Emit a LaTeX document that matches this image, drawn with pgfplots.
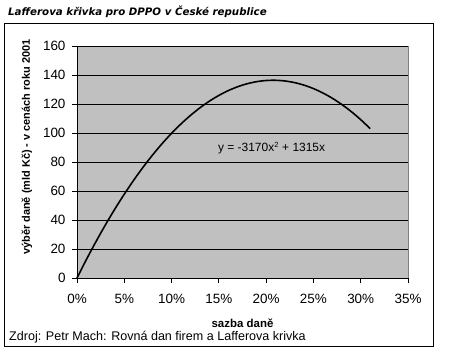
\documentclass[border=0pt]{standalone}
\usepackage{pgfplots}
\pgfplotsset{compat=1.18}
\usepackage{fontspec}
\setmainfont{Liberation Sans}
\newfontfamily\titlefont{DejaVu Sans}
\definecolor{excelgray}{RGB}{192,192,192}
\begin{document}
\begin{tikzpicture}[x=1bp,y=1bp]
\path (0,0) rectangle (452,356);
\draw[black, line width=0.8bp] (4.5,9.5) rectangle (433,333);
\node[anchor=west, inner sep=0pt, font=\titlefont\bfseries\itshape\fontsize{10.3}{12}\selectfont] at (8,344) {Lafferova křivka pro DPPO v České republice};
\begin{axis}[at={(77bp,78bp)}, anchor=south west, scale only axis,
  width=331bp, height=232bp,
  xmin=0, xmax=35, ymin=0, ymax=160,
  xtick={0,5,...,35},
  xticklabels={0\%,5\%,10\%,15\%,20\%,25\%,30\%,35\%},
  ytick={0,20,...,160},
  axis background/.style={fill=excelgray, draw=gray},
  axis x line*=bottom, axis y line*=left,
  axis line style={black, line width=0.8bp},
  ymajorgrids, grid style={black, line width=0.7bp},
  tick align=outside, major tick length=5bp,
  tick style={black, line width=0.8bp},
  tick label style={font=\fontsize{13.5}{15}\selectfont},
  /pgf/number format/assume math mode=true,
  xticklabel style={yshift=-8bp},
  yticklabel style={xshift=-3bp},
  clip=false]
\addplot[black, line width=1.6bp, smooth] coordinates {
(0,0) (1,12.833) (2,25.032) (3,36.597) (4,47.528) (5,57.825) (6,67.488) (7,76.517) (8,84.912) (9,92.673) (10,99.8)
(11,106.293) (12,112.152) (13,117.377) (14,121.968) (15,125.925) (16,129.248) (17,131.937) (18,133.992) (19,135.413) (20,136.2)
(21,136.353) (22,135.872) (23,134.757) (24,133.008) (25,130.625) (26,127.608) (27,123.957) (28,119.672) (29,114.753) (30,109.2) (31,103.013)};
\node[anchor=west, inner sep=0pt, font=\fontsize{12}{14}\selectfont] at (axis cs:14.9,89.5) {y = -3170x\textsuperscript{\fontsize{7.5}{8}\selectfont 2} + 1315x};
\end{axis}
\node[font=\bfseries\fontsize{11.5}{13}\selectfont] at (242.5,33) {sazba daně};
\node[rotate=90, font=\bfseries\fontsize{11}{13}\selectfont] at (27,209) {výběr daně (mld Kč) - v cenách roku 2001};
\node[anchor=west, inner sep=0pt, font=\fontsize{12.6}{14}\selectfont] at (9,19) {Zdroj: Petr Mach: Rovná dan firem a Lafferova krivka};
\end{tikzpicture}
\end{document}
